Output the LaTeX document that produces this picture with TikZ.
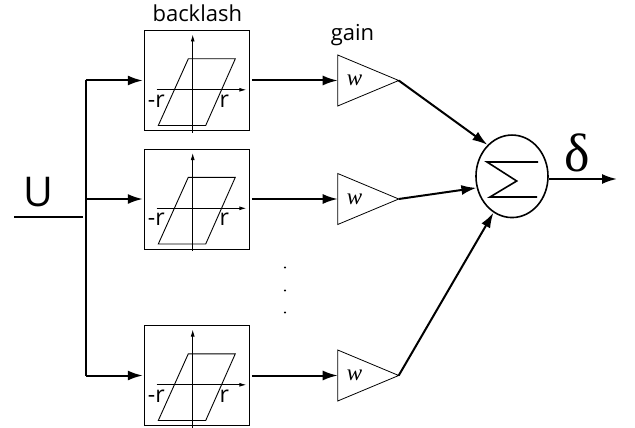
\documentclass[tikz,border=0pt]{standalone}
\usepackage{fontspec}
\setmainfont{Open Sans}
\newfontfamily\timesfont{Liberation Serif}
\usetikzlibrary{positioning,arrows.meta,shapes.geometric}
\tikzset{
  blbox/.style={draw,line width=1pt,minimum width=105pt,minimum height=100pt,inner sep=0pt,outer sep=2pt},
  gaintri/.style={draw,line width=0.8pt,isosceles triangle,isosceles triangle stretches,minimum width=51pt,minimum height=61pt,inner sep=0pt,outer sep=0pt,font=\timesfont\itshape\fontsize{23}{23}\selectfont},
  sig/.style={line width=2pt,-{Latex[length=15pt,width=10pt]}},
  wire/.style={line width=2pt},
  thinax/.style={line width=0.9pt,-{Latex[length=7pt,width=4pt]}},
  lbl/.style={font=\fontsize{22}{22}\selectfont,inner sep=0pt},
  rlbl/.style={font=\fontsize{23}{23}\selectfont,inner sep=0pt},
}
\begin{document}
\begin{tikzpicture}[x=1pt,y=1pt]
  \useasboundingbox (0,0) rectangle (635,-428);
  \node[blbox] (b1) at (197.3,-80.5) {};
  \node[blbox,below=14.5pt of b1] (b2) {};
  \node[blbox,below=72.5pt of b2] (b3) {};
  \foreach \b in {b1,b2,b3} {
    \begin{scope}[shift={(\b)}]
      \draw[thinax] (-4.6,-52) -- (-4.6,46);
      \draw[thinax] (-40.6,-9.3) -- (49,-9.3);
      \draw[line width=0.9pt] (-9,21.7) -- (38,21.7) -- (8.4,-45) -- (-39,-45) -- cycle;
      \node[rlbl] at (-41,-20.5) {-r};
      \node[rlbl] at (27,-20.5) {r};
    \end{scope}
  }
  \node[lbl,above=7pt of b1] (blname) {backlash};
  \node[gaintri] (t1) at (354.5,-80.5) {w};
  \node[gaintri] (t2) at (354.5,-199) {w};
  \node[gaintri] (t3) at (354.5,-375.5) {w};
  \node[lbl,above=16pt of t1,xshift=-2pt] (gainname) {gain};
  \node[draw,ellipse,line width=1.6pt,minimum width=72pt,minimum height=82.5pt,inner sep=0pt,outer sep=1pt] (sum) at (512,-176.3) {};
  \begin{scope}[shift={(sum)}]
    \draw[line width=1.6pt] (25,-20.7) -- (-22,-20.7) -- (4.7,-4.7) -- (-25,14.3) -- (26,14.3);
  \end{scope}
  \coordinate (in) at (14,-216.7);
  \coordinate (j) at (83,-216.7);
  \coordinate (bt) at (85.5,-80.5);
  \coordinate (bb) at (85.5,-375.5);
  \coordinate (out) at (617,-179);
  \node[font=\fontsize{41}{41}\selectfont,inner sep=0pt] (u) at (38,-192) {U};
  \node[font=\timesfont\fontsize{54}{54}\selectfont,inner sep=0pt] (d) at (577,-153) {δ};
  \foreach \y in {-267.5,-290.5,-312.5}
    \fill (285,\y) circle (1.1pt);
  \draw[wire] (in) -- (j);
  \draw[wire] (bt) -- (bb);
  \draw[sig] (bt) -- (b1.west);
  \draw[sig] (bt |- b2) -- (b2.west);
  \draw[sig] (bb) -- (b3.west);
  \draw[sig] (b1.east) -- (t1.west);
  \draw[sig] (b2.east) -- (t2.west);
  \draw[sig] (b3.east) -- (t3.west);
  \draw[sig] (t1.apex) -- (sum.128);
  \draw[sig] (t2.apex) -- (sum.198);
  \draw[sig] (t3.apex) -- (sum.243);
  \draw[sig] (out -| sum.east) -- (out);
\end{tikzpicture}
\end{document}
